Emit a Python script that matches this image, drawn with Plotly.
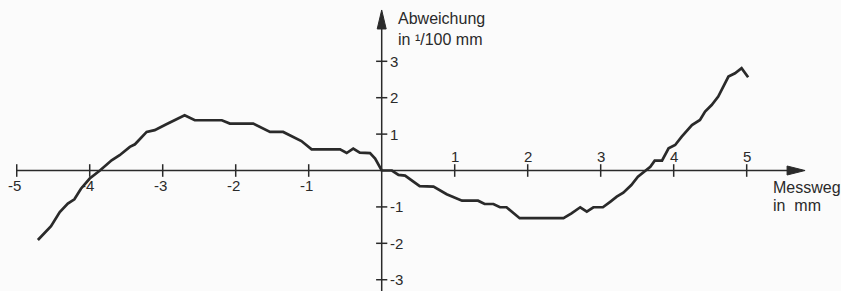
import plotly.graph_objects as go

# ---- data ----
messweg_mm = [-4.71, -4.53, -4.41, -4.30, -4.21, -4.12, -4.00, -3.86, -3.70, -3.59,
              -3.45, -3.38, -3.22, -3.11, -2.95, -2.70, -2.56, -2.19, -2.08, -1.76,
              -1.53, -1.35, -1.10, -0.96, -0.57, -0.48, -0.39, -0.30, -0.16, -0.09,
              0.00, 0.14, 0.23, 0.32, 0.52, 0.71, 0.89, 1.10, 1.32, 1.41,
              1.53, 1.62, 1.71, 1.89, 2.49, 2.60, 2.72, 2.81, 2.90, 3.03,
              3.13, 3.22, 3.31, 3.42, 3.51, 3.61, 3.68, 3.74, 3.84, 3.93,
              4.02, 4.11, 4.25, 4.36, 4.43, 4.52, 4.61, 4.75, 4.84, 4.93, 5.02]
abweichung = [-1.91, -1.53, -1.14, -0.91, -0.79, -0.50, -0.22, 0.00, 0.28, 0.42,
              0.65, 0.72, 1.06, 1.11, 1.27, 1.52, 1.38, 1.38, 1.29, 1.29,
              1.06, 1.06, 0.81, 0.58, 0.58, 0.48, 0.60, 0.49, 0.48, 0.33,
              0.00, 0.00, -0.12, -0.14, -0.43, -0.44, -0.65, -0.83, -0.83, -0.92,
              -0.92, -1.01, -1.01, -1.31, -1.31, -1.18, -1.01, -1.13, -1.01, -1.01,
              -0.86, -0.72, -0.61, -0.40, -0.17, 0.00, 0.10, 0.27, 0.27, 0.61,
              0.70, 0.93, 1.25, 1.39, 1.62, 1.80, 2.03, 2.58, 2.67, 2.81, 2.56]

x_ticks = [-5, -4, -3, -2, -1, 1, 2, 3, 4, 5]
x_tick_labels = ["-5", "-4", "-3", "-2", "-1", "1", "2", "3", "4", "5"]
y_ticks = [-3, -2, -1, 1, 2, 3]
y_tick_labels = ["-3", "-2", "-1", "1", "2", "3"]

x_title = ["Messweg", "in  mm"]
y_title = ["Abweichung", "in \u00b9/100 mm"]

INK = "#2a2a2a"
FONT = "Liberation Sans, Arial, sans-serif"

x_range = [-5.229, 6.292]
y_range = [-3.31, 4.684]
x_axis_end = 5.80
y_axis_end = 4.41

fig = go.Figure()

# the measured curve
fig.add_trace(go.Scatter(x=messweg_mm, y=abweichung, mode="lines",
                         line=dict(color=INK, width=2.7), hoverinfo="skip"))

# tick marks
fig.add_trace(go.Scatter(x=x_ticks, y=[0] * len(x_ticks), mode="markers",
                         marker=dict(symbol="line-ns", size=9,
                                     line=dict(color=INK, width=1.5)),
                         hoverinfo="skip"))
fig.add_trace(go.Scatter(x=[0] * len(y_ticks), y=y_ticks, mode="markers",
                         marker=dict(symbol="line-ew", size=8,
                                     line=dict(color=INK, width=1.5)),
                         hoverinfo="skip"))

shapes = [
    dict(type="line", xref="x", yref="y", x0=x_ticks[0], x1=x_axis_end - 0.15,
         y0=0, y1=0, line=dict(color=INK, width=1.5)),
    dict(type="line", xref="x", yref="y", x0=0, x1=0, y0=y_range[0],
         y1=y_axis_end - 0.3, line=dict(color=INK, width=1.5)),
    dict(type="path", xref="x", yref="y", xsizemode="pixel", ysizemode="pixel",
         xanchor=x_axis_end, yanchor=0, path="M0,0 L-18,4.5 L-18,-4.5 Z",
         fillcolor=INK, line=dict(color=INK, width=1)),
    dict(type="path", xref="x", yref="y", xsizemode="pixel", ysizemode="pixel",
         xanchor=0, yanchor=y_axis_end, path="M0,0 L-4.5,-19 L4.5,-19 Z",
         fillcolor=INK, line=dict(color=INK, width=1)),
]

annotations = []
for v, t in zip(x_ticks, x_tick_labels):
    annotations.append(dict(x=v, y=0, xref="x", yref="y", text=t, showarrow=False,
                            xanchor="center", yanchor="middle",
                            yshift=(-15 if v < 0 else 14), xshift=(-2 if v < 0 else 0),
                            font=dict(family=FONT, size=15, color=INK)))
for v, t in zip(y_ticks, y_tick_labels):
    annotations.append(dict(x=0, y=v, xref="x", yref="y", text=t, showarrow=False,
                            xanchor="left", yanchor="middle", xshift=6,
                            font=dict(family=FONT, size=15, color=INK)))

for i, t in enumerate(y_title):
    annotations.append(dict(x=396 / 841, y=1 - (18 + 22 * i) / 291, xref="paper", yref="paper",
                            text=t, showarrow=False, xanchor="left", yanchor="middle",
                            font=dict(family=FONT, size=16, color=INK)))
for i, t in enumerate(x_title):
    annotations.append(dict(x=771 / 841, y=1 - (187 + 18 * i) / 291, xref="paper", yref="paper",
                            text=t, showarrow=False, xanchor="left", yanchor="middle",
                            font=dict(family=FONT, size=16, color=INK)))

fig.update_layout(
    width=841, height=291,
    margin=dict(l=0, r=0, t=0, b=0),
    paper_bgcolor="#fbfbfb", plot_bgcolor="#fbfbfb",
    showlegend=False,
    xaxis=dict(range=x_range, visible=False, showgrid=False, zeroline=False, fixedrange=True),
    yaxis=dict(range=y_range, visible=False, showgrid=False, zeroline=False, fixedrange=True),
    shapes=shapes, annotations=annotations,
)

fig.write_html(
    "out.html",
    config={"displayModeBar": False},
    post_script="document.body.style.margin='0';document.body.style.overflow='hidden';",
)
